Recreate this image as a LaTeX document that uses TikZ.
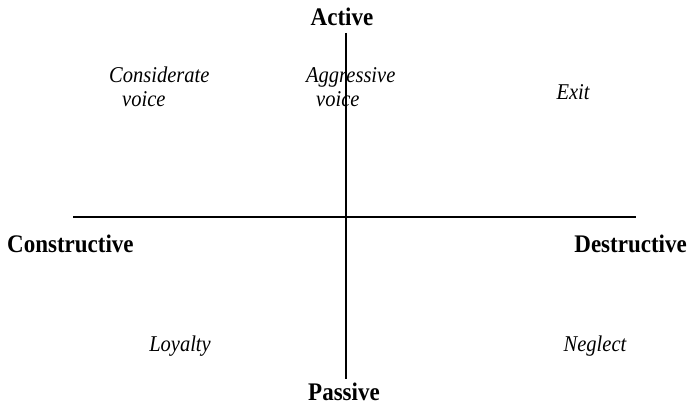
\documentclass[tikz,border=0pt]{standalone}
\usepackage{fontspec}
\setmainfont{Liberation Serif}
\usetikzlibrary{positioning}
\tikzset{
    axis/.style={line width=1.3pt},
    pole/.style={font=\fontsize{23}{26}\selectfont\bfseries, inner sep=0pt, yscale=1.1, transform shape},
    kind/.style={font=\fontsize{20.5}{22.7}\selectfont\itshape, inner sep=0pt, align=left, yscale=1.1, transform shape},
}

\begin{document}
\begin{tikzpicture}[x=1pt, y=1pt]
    \useasboundingbox (0,0) rectangle (688,406);

    \coordinate (top) at (346,373);
    \coordinate (bot) at (346,27);
    \coordinate (lft) at (73,189);
    \coordinate (rgt) at (636,189);

    \draw[axis] (top) -- (bot);
    \draw[axis] (lft) -- (rgt);

    \node[pole, anchor=base] (active) at (342,380) {Active};
    \node[pole, anchor=base] (passive) at (344,5) {Passive};
    \node[pole, anchor=base west] (constr) at (7,153) {Constructive};
    \node[pole, anchor=base east] (destr) at (687,153) {Destructive};

    % two-line labels: base is the last line
    \node[kind, anchor=base west] (consid) at (109,299) {Considerate\\\hspace*{13pt}voice};
    \node[kind, anchor=base west] (aggr) at (306,299) {Aggressive\\\hspace*{10pt}voice};
    \node[kind, anchor=base] (exit) at (573,306) {Exit};
    \node[kind, anchor=base] (loyal) at (180,54) {Loyalty};
    \node[kind, anchor=base] (negl) at (595,54) {Neglect};
\end{tikzpicture}
\end{document}
